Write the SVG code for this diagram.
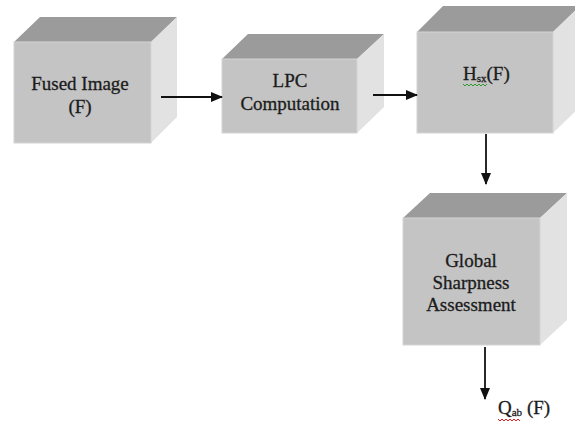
<svg xmlns="http://www.w3.org/2000/svg" width="575" height="423" viewBox="0 0 575 423">
  <style>
    .front { fill: #c4c4c4; stroke: #d4d4d4; stroke-width: 1; }
    .top { fill: #9b9b9b; }
    .side { fill: #e2e2e2; }
    .lbl { font-family: "Liberation Serif", "Times New Roman", serif; font-size: 19px; fill: #1c1c1c; stroke: #1c1c1c; stroke-width: 0.3; text-anchor: middle; }
    .sub { font-size: 11px; }
    .conn { stroke: #111; stroke-width: 1.8; fill: none; }
  </style>
  <defs>
    <marker id="ah" markerWidth="12" markerHeight="10" refX="11" refY="5" orient="auto" markerUnits="userSpaceOnUse">
      <path d="M0,0 L12,5 L0,10 Z" fill="#111"/>
    </marker>
  </defs>
  <rect width="575" height="423" fill="#ffffff"/>

  <g id="fused-image">
    <polygon class="top" points="14,42 40,17 177,17 151,42"/>
    <polygon class="side" points="151,42 177,17 177,117 151,143"/>
    <rect class="front" x="14" y="42" width="137" height="101"/>
    <text class="lbl" x="80" y="90">Fused Image</text>
    <text class="lbl" x="80" y="113">(F)</text>
  </g>

  <g id="lpc-computation">
    <polygon class="top" points="222,59 248,34 384,34 357,59"/>
    <polygon class="side" points="357,59 384,34 384,107 357,133"/>
    <rect class="front" x="222" y="59" width="135" height="74"/>
    <text class="lbl" x="290" y="87">LPC</text>
    <text class="lbl" x="290" y="110">Computation</text>
  </g>

  <g id="h-sx">
    <polygon class="top" points="417,32 443,6 580,6 553,32"/>
    <polygon class="side" points="553,32 580,6 580,107 553,133"/>
    <rect class="front" x="417" y="32" width="136" height="101"/>
    <text class="lbl" x="463" y="80" style="text-anchor:start">H<tspan class="sub" dy="2">sx</tspan><tspan dy="-2">(F)</tspan></text>
    <path d="M463,84 l2,2 l2,-2 l2,2 l2,-2 l2,2 l2,-2 l2,2 l2,-2 l2,2 l2,-2 l2,2 l2,-2" fill="none" stroke="#2e9a2e" stroke-width="1"/>
  </g>

  <g id="global-sharpness">
    <polygon class="top" points="403,218 430,193 567,193 540,218"/>
    <polygon class="side" points="540,218 567,193 567,320 540,345"/>
    <rect class="front" x="403" y="218" width="137" height="127"/>
    <text class="lbl" x="471" y="267">Global</text>
    <text class="lbl" x="471" y="289">Sharpness</text>
    <text class="lbl" x="471" y="311">Assessment</text>
  </g>

  <g id="q-output">
    <text class="lbl" x="498" y="414" style="text-anchor:start">Q<tspan class="sub" dy="2">ab</tspan><tspan dy="-2"> (F)</tspan></text>
    <path d="M498,419 l2,2 l2,-2 l2,2 l2,-2 l2,2 l2,-2 l2,2 l2,-2 l2,2 l2,-2 l2,2" fill="none" stroke="#e02020" stroke-width="1"/>
  </g>

  <g id="connectors">
    <line class="conn" x1="161" y1="97" x2="222" y2="97" marker-end="url(#ah)"/>
    <line class="conn" x1="373" y1="95" x2="417" y2="95" marker-end="url(#ah)"/>
    <line class="conn" x1="486" y1="134" x2="486" y2="184" marker-end="url(#ah)"/>
    <line class="conn" x1="485" y1="347" x2="485" y2="399" marker-end="url(#ah)"/>
  </g>
</svg>
